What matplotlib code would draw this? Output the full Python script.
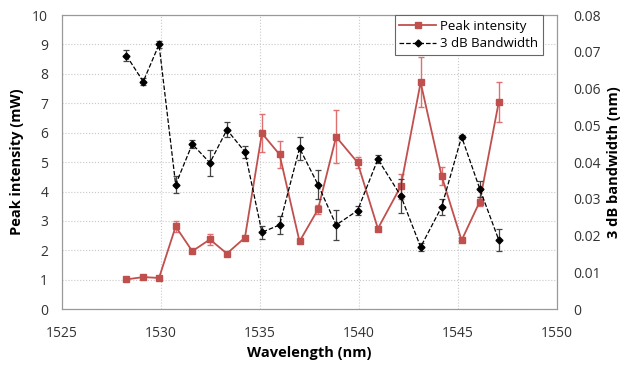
import matplotlib.pyplot as plt

plt.rcParams['font.family'] = ['Open Sans', 'DejaVu Sans']

# wavelength (nm)
wavelength = [1528.25, 1529.1, 1529.9, 1530.74, 1531.58, 1532.47, 1533.33,
              1534.24, 1535.1, 1535.99, 1537.0, 1537.93, 1538.85, 1539.93,
              1540.96, 1542.12, 1543.12, 1544.18, 1545.19, 1546.11, 1547.07]

# peak intensity (mW) and its error
peak = [1.01, 1.09, 1.06, 2.81, 1.97, 2.37, 1.89, 2.43, 5.98, 5.26, 2.30,
        3.39, 5.86, 4.99, 2.74, 4.18, 7.71, 4.53, 2.34, 3.66, 7.05]
peak_err = [0.02, 0.03, 0.03, 0.2, 0.03, 0.2, 0.03, 0.03, 0.64, 0.45, 0.06,
            0.15, 0.9, 0.2, 0.03, 0.42, 0.85, 0.3, 0.03, 0.15, 0.68]

# 3 dB bandwidth (nm) and its error
bw = [0.069, 0.0619, 0.072, 0.0339, 0.0449, 0.0398, 0.0488, 0.0428, 0.0209,
      0.0229, 0.0438, 0.0339, 0.0229, 0.0268, 0.0408, 0.0308, 0.0169,
      0.0278, 0.0469, 0.0327, 0.0188]
bw_err = [0.0015, 0.001, 0.001, 0.0024, 0.001, 0.0035, 0.002, 0.0016,
          0.0018, 0.0024, 0.0031, 0.004, 0.004, 0.0012, 0.0011, 0.0046,
          0.001, 0.0021, 0.0006, 0.0021, 0.003]

red = '#c0504d'

fig = plt.figure(figsize=(6.27, 3.68), dpi=100)
ax = fig.add_axes([0.099, 0.160, 0.789, 0.799])
ax2 = ax.twinx()

ax.grid(True, color='#c8c8c8', linestyle=':', linewidth=0.8)
ax.set_axisbelow(True)

l1 = ax.errorbar(wavelength, peak, yerr=peak_err, color=red, marker='s',
                 markersize=5, linewidth=1.3, ecolor='#e07070', elinewidth=1,
                 capsize=2.5, capthick=1, zorder=3)
l2 = ax2.errorbar(wavelength, bw, yerr=bw_err, color='black', marker='D',
                  markersize=3.5, linewidth=0.9, linestyle='--',
                  ecolor='#444444', elinewidth=0.9, capsize=2.5, capthick=0.9,
                  zorder=3)

ax.set_xlim(1525, 1550)
ax.set_ylim(0, 10)
ax2.set_ylim(0, 0.08)
ax.set_xticks([1525, 1530, 1535, 1540, 1545, 1550])
ax.set_yticks(range(0, 11))
ax2.set_yticks([0, 0.01, 0.02, 0.03, 0.04, 0.05, 0.06, 0.07, 0.08])
ax2.set_yticklabels(['0', '0.01', '0.02', '0.03', '0.04', '0.05', '0.06',
                     '0.07', '0.08'])

for a in (ax, ax2):
    a.tick_params(length=0, labelsize=10, colors='#333333')
    for s in a.spines.values():
        s.set_color('#999999')
ax.tick_params(axis='x', pad=12)
ax.tick_params(axis='y', pad=10)
ax2.tick_params(axis='y', pad=12)

ax.set_xlabel('Wavelength (nm)', fontsize=10.5, fontweight='bold', labelpad=4)
ax.set_ylabel('Peak intensity (mW)', fontsize=10.5, fontweight='bold', labelpad=6)
ax2.set_ylabel('3 dB bandwidth (nm)', fontsize=10.5, fontweight='bold', labelpad=4)

leg = ax2.legend([l1[0], l2[0]], ['Peak intensity', '3 dB Bandwidth'],
                 loc='upper right', bbox_to_anchor=(0.972, 1.0), fontsize=9.5,
                 frameon=True, fancybox=False, edgecolor='#666666',
                 borderpad=0.35, labelspacing=0.35, handlelength=2.8,
                 handletextpad=0.3, borderaxespad=0)
leg.get_frame().set_linewidth(0.8)
leg.get_frame().set_alpha(1)

fig.savefig('out.png', dpi=100)
